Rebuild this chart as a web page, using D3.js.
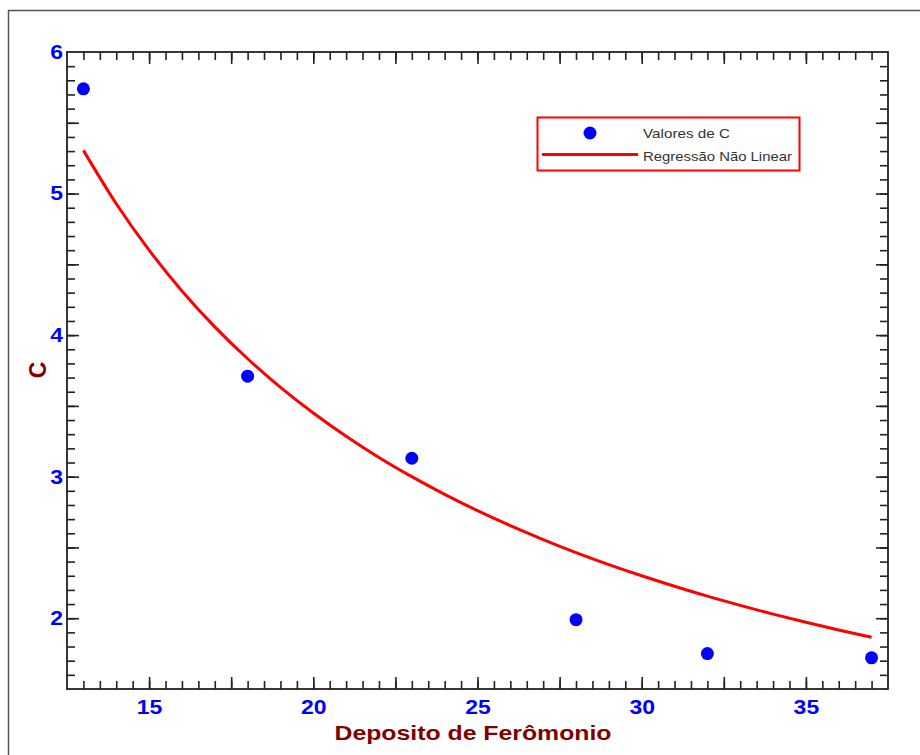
<!DOCTYPE html>
<html>
<head>
<meta charset="utf-8">
<script src="https://cdn.jsdelivr.net/npm/d3@7"></script>
<style>
  body { margin: 0; background: #fff; }
  text { font-family: "Liberation Sans", Arial, sans-serif; }
</style>
</head>
<body>
<div id="chart"></div>
<script>
var depositos = [13, 18, 23, 28, 32, 37];
var valoresC = [5.74, 3.71, 3.13, 1.99, 1.75, 1.72];

// regression curve, read at each unit of x
var curvaX = [13, 14, 15, 16, 17, 18, 19, 20, 21, 22, 23, 24, 25,
              26, 27, 28, 29, 30, 31, 32, 33, 34, 35, 36, 37];
var curvaC = [5.305, 4.928, 4.600, 4.312, 4.058, 3.833, 3.631, 3.450, 3.286, 3.136, 3.000, 2.875, 2.760,
              2.654, 2.556, 2.464, 2.379, 2.300, 2.226, 2.156, 2.091, 2.029, 1.971, 1.917, 1.865];

var xTickLabels = [15, 20, 25, 30, 35];
var yTickLabels = [2, 3, 4, 5, 6];

var W = 920, H = 755;
var margin = {top: 52, right: 32, bottom: 66, left: 67};
var x0 = margin.left, x1 = W - margin.right, y0 = margin.top, y1 = H - margin.bottom;

var svg = d3.select("#chart").append("svg")
  .attr("width", W)
  .attr("height", H);

// outer frame (runs off the right and bottom of the picture)
svg.append("rect")
  .attr("x", 8.5).attr("y", 10.5)
  .attr("width", 1000).attr("height", 1000)
  .attr("fill", "none")
  .attr("stroke", "#555")
  .attr("stroke-width", 1.5);

var x = d3.scaleLinear().domain([12.5, 37.5]).range([x0, x1]);
var y = d3.scaleLinear().domain([1.5, 6]).range([y1, y0]);

// tick positions
var xMinor = d3.range(13, 37.01, 0.5);
var xMajor = d3.range(15, 35.01, 2.5);
var yMinor = d3.range(1.6, 5.95, 0.1);
var yMajor = d3.range(2, 5.51, 0.5);

function tickAxis(axis, vals, size) {
  return axis.tickValues(vals).tickSize(size).tickSizeOuter(0).tickFormat("");
}

function drawTicks(g) {
  g.select(".domain").remove();
  g.selectAll(".tick line").attr("stroke", "#222").attr("stroke-width", 1.6);
}

// bottom & top
[[d3.axisBottom, y1], [d3.axisTop, y0]].forEach(function(a) {
  svg.append("g").attr("transform", "translate(0," + a[1] + ")")
    .call(tickAxis(a[0](x), xMinor, -8)).call(drawTicks);
  svg.append("g").attr("transform", "translate(0," + a[1] + ")")
    .call(tickAxis(a[0](x), xMajor, -12)).call(drawTicks);
});
// left & right
[[d3.axisLeft, x0], [d3.axisRight, x1]].forEach(function(a) {
  svg.append("g").attr("transform", "translate(" + a[1] + ",0)")
    .call(tickAxis(a[0](y), yMinor, -8)).call(drawTicks);
  svg.append("g").attr("transform", "translate(" + a[1] + ",0)")
    .call(tickAxis(a[0](y), yMajor, -12)).call(drawTicks);
});

// plot box
svg.append("rect")
  .attr("x", x0).attr("y", y0)
  .attr("width", x1 - x0).attr("height", y1 - y0)
  .attr("fill", "none")
  .attr("stroke", "#222")
  .attr("stroke-width", 1.8);

// tick labels
var xLab = svg.append("g").attr("transform", "translate(0," + y1 + ")")
  .call(d3.axisBottom(x).tickValues(xTickLabels).tickSize(0).tickPadding(11)
    .tickFormat(d3.format("d")));
xLab.select(".domain").remove();
xLab.selectAll("text")
  .attr("font-family", "Liberation Sans, Arial, sans-serif")
  .attr("font-size", 20).attr("font-weight", "bold")
  .attr("fill", "#0000ff")
  .attr("transform", "scale(1.15,1)");

var yLab = svg.append("g").attr("transform", "translate(" + x0 + ",0)")
  .call(d3.axisLeft(y).tickValues(yTickLabels).tickSize(0).tickPadding(4)
    .tickFormat(d3.format("d")));
yLab.select(".domain").remove();
yLab.selectAll("text")
  .attr("font-family", "Liberation Sans, Arial, sans-serif")
  .attr("font-size", 20).attr("font-weight", "bold")
  .attr("fill", "#0000ff")
  .attr("x", -4 / 1.15)
  .attr("transform", "scale(1.15,1)");

// axis titles
svg.append("text")
  .attr("x", 473).attr("y", 740)
  .attr("text-anchor", "middle")
  .attr("font-size", 21).attr("font-weight", "bold")
  .attr("fill", "#800000")
  .attr("textLength", 277).attr("lengthAdjust", "spacingAndGlyphs")
  .text("Deposito de Ferômonio");

svg.append("text")
  .attr("transform", "translate(46,370) rotate(-90)")
  .attr("text-anchor", "middle")
  .attr("font-size", 23).attr("font-weight", "bold")
  .attr("fill", "#800000")
  .text("C");

// regression curve
var curva = curvaX.map(function(d, i) { return [d, curvaC[i]]; });
svg.append("path")
  .datum(curva)
  .attr("fill", "none")
  .attr("stroke", "#ff0000")
  .attr("stroke-width", 3)
  .attr("d", d3.line()
    .x(function(d) { return x(d[0]); })
    .y(function(d) { return y(d[1]); })
    .curve(d3.curveCatmullRom));

// points
svg.append("g")
  .selectAll("circle")
  .data(depositos)
  .enter().append("circle")
    .attr("cx", function(d) { return x(d); })
    .attr("cy", function(d, i) { return y(valoresC[i]); })
    .attr("r", 6.5)
    .attr("fill", "#0000ff");

// legend
var leg = svg.append("g");
leg.append("rect")
  .attr("x", 537.5).attr("y", 117.5)
  .attr("width", 262).attr("height", 53)
  .attr("fill", "#fff")
  .attr("stroke", "#ff0000")
  .attr("stroke-width", 2);
leg.append("circle")
  .attr("cx", 590).attr("cy", 133).attr("r", 6.5)
  .attr("fill", "#0000ff");
leg.append("line")
  .attr("x1", 542).attr("x2", 638)
  .attr("y1", 154.5).attr("y2", 154.5)
  .attr("stroke", "#ff0000").attr("stroke-width", 3);
leg.append("text")
  .attr("x", 643).attr("y", 137.5)
  .attr("font-size", 13.5).attr("fill", "#333")
  .attr("textLength", 87).attr("lengthAdjust", "spacingAndGlyphs")
  .text("Valores de C");
leg.append("text")
  .attr("x", 643).attr("y", 161)
  .attr("font-size", 13.5).attr("fill", "#333")
  .attr("textLength", 149).attr("lengthAdjust", "spacingAndGlyphs")
  .text("Regressão Não Linear");
</script>
</body>
</html>
